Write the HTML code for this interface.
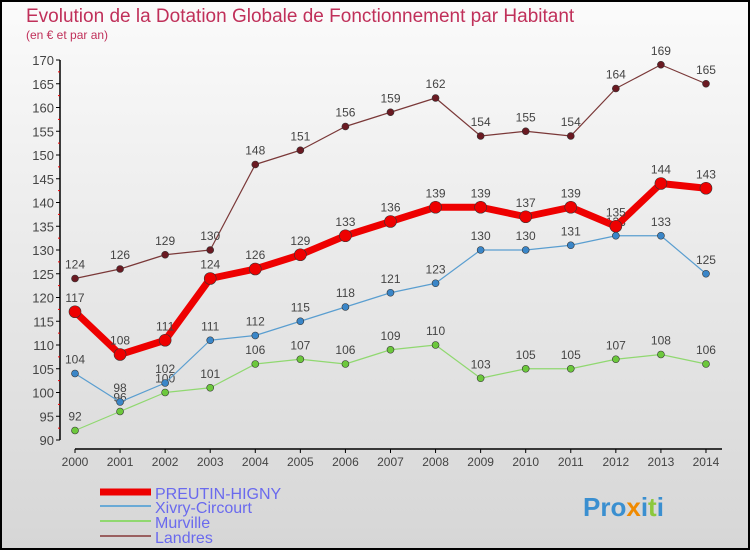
<!DOCTYPE html>
<html><head><meta charset="utf-8"><style>
body{margin:0}
#c{width:750px;height:550px;position:relative;font-family:"Liberation Sans",sans-serif;}
</style></head><body>
<div id="c">
<svg id="s" width="750" height="550" xmlns="http://www.w3.org/2000/svg">
<defs><linearGradient id="bg" x1="0" y1="0" x2="0" y2="1"><stop offset="0" stop-color="#fbfbfb"/><stop offset="1" stop-color="#d6d6d6"/></linearGradient></defs>
<rect x="1" y="1" width="748" height="548" fill="url(#bg)" stroke="#000" stroke-width="2"/>
<text x="26" y="22" font-size="19" fill="#c0305a">Evolution de la Dotation Globale de Fonctionnement par Habitant</text>
<text x="26" y="39" font-size="12" fill="#c0305a">(en € et par an)</text>
<g id="axes"></g><g id="series"></g><g id="legend"></g>
<text x="583" y="516" font-size="26" font-weight="bold" fill="#3a8fd0">Pro<tspan fill="#f08a00">x</tspan>i<tspan fill="#8cc83c">t</tspan>i</text>
</svg></div>
<script>
const years=[2000,2001,2002,2003,2004,2005,2006,2007,2008,2009,2010,2011,2012,2013,2014];
const preutin=[117,108,111,124,126,129,133,136,139,139,137,139,135,144,143];
const xivry=[104,98,102,111,112,115,118,121,123,130,130,131,133,133,125];
const murville=[92,96,100,101,106,107,106,109,110,103,105,105,107,108,106];
const landres=[124,126,129,130,148,151,156,159,162,154,155,154,164,169,165];
const yTicks=[90,95,100,105,110,115,120,125,130,135,140,145,150,155,160,165,170];
const NS="http://www.w3.org/2000/svg";
const X=i=>75+i*45.07, Y=v=>440-(v-90)*4.75;
function mk(t,a,p){const e=document.createElementNS(NS,t);for(const k in a)e.setAttribute(k,a[k]);p.appendChild(e);return e;}
const ax=document.getElementById('axes');
const yl=mk('line',{x1:60,y1:Y(170),x2:60,y2:Y(90),stroke:'#000','stroke-width':1.5},ax);


const xl=mk('line',{x1:X(0),y1:449,x2:722,y2:449,stroke:'#000','stroke-width':1.5},ax);


yTicks.forEach(v=>{
 mk('line',{x1:56,y1:Y(v),x2:60,y2:Y(v),stroke:'#000'},ax);
 if(v<170)mk('line',{x1:58,y1:Y(v+2.5),x2:60,y2:Y(v+2.5),stroke:'#e00'},ax);
 const t=mk('text',{x:54,y:Y(v)+5,'font-size':13,fill:'#444','text-anchor':'end'},ax);t.textContent=v;
 
 
});
years.forEach((y,i)=>{
 mk('line',{x1:X(i),y1:449,x2:X(i),y2:453,stroke:'#000'},ax);
 const t=mk('text',{x:X(i),y:466,'font-size':12,fill:'#444','text-anchor':'middle'},ax);t.textContent=y;
 
 
});
const sg=document.getElementById('series');
function series(d,col,w,r,name,dot){
 const g=mk('g',{},sg);
 
 
 const pl=mk('polyline',{points:d.map((v,i)=>X(i)+','+Y(v)).join(' '),fill:'none',stroke:col,'stroke-width':w,'stroke-linejoin':'round'},g);
 
 
 d.forEach((v,i)=>{
  const c=mk('circle',{cx:X(i),cy:Y(v),r:r,fill:dot,stroke:'#333','stroke-width':0.6},g);
  
  
  const t=mk('text',{x:X(i),y:Y(v)-10,'font-size':12,fill:'#444','text-anchor':'middle'},g);t.textContent=v;
  
  
 });
}
series(landres,'#7a3838',1.2,3.5,'landres','#6a1a22');
series(murville,'#90d870',1.2,3.5,'murville','#6cc83c');
series(xivry,'#5a9ed0',1.2,3.5,'xivry-circourt','#3a86c8');
series(preutin,'#ee0000',7,6,'preutin-higny','#ee0000');
const lg=document.getElementById('legend');
[['PREUTIN-HIGNY','#ee0000',7,494],['Xivry-Circourt','#6aaad6',2,508],['Murville','#90d870',2,523],['Landres','#9a6060',2,538]].forEach(([n,c,w,y])=>{
 const l=mk('line',{x1:100,y1:y-2,x2:151,y2:y-2,stroke:c,'stroke-width':w},lg);
 
 
 const t=mk('text',{x:155,y:y+5,'font-size':16,fill:'#6a6aee'},lg);t.textContent=n;
 
 
});
</script>
</body></html>
